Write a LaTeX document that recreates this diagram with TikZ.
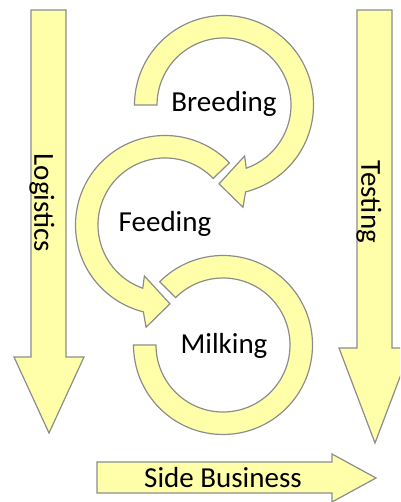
\documentclass[tikz,border=0pt]{standalone}
\usepackage{fontspec}
\setmainfont{Carlito}
\definecolor{bandfill}{RGB}{255,255,170}
\definecolor{bandline}{RGB}{140,140,140}
\begin{document}
\begin{tikzpicture}[x=1pt, y=1pt, every node/.style={font=\fontsize{29}{34}\selectfont},
  band/.style={draw=bandline,fill=bandfill,line width=1.2pt,line join=miter}]
  \useasboundingbox (0,0) rectangle (400,502);
  \clip (0,0) rectangle (400,502);
  % straight arrows
  \draw[band] (31,492) -- (66,492) -- (66,145) -- (84,145) -- (49,69) -- (14,145) -- (31,145) -- cycle;
  \draw[band] (357,492) -- (392,492) -- (392,154) -- (411,154) -- (375,59) -- (339,154) -- (357,154) -- cycle;
  \draw[band] (97,40) -- (332,40) -- (332,48) -- (376,24) -- (332,0) -- (332,9) -- (97,9) -- cycle;
  % ring arrows
  \begin{scope}[shift={(224,397)}]
    \draw[band] (180:89.5) arc[start angle=180, end angle=-76, radius=89.5] -- (-79.5:104) -- (-93.6:79)
      -- (-68:55) -- (-70.6:67) arc[start angle=-70.6, end angle=180, radius=67] -- cycle;
  \end{scope}
  \begin{scope}[shift={(165,277)}]
    \draw[band] (44:89.5) arc[start angle=44, end angle=256, radius=89.5] -- (259.5:104) -- (273.6:79)
      -- (248:55) -- (250.6:67) arc[start angle=250.6, end angle=44, radius=67] -- cycle;
  \end{scope}
  \begin{scope}[shift={(223,157)}]
    \draw[band] (135:89.5) arc[start angle=135, end angle=-180, radius=89.5] -- (-180:67)
      arc[start angle=-180, end angle=135, radius=67] -- cycle;
  \end{scope}
  % labels
  \node (breed) at (224,398) {Breeding};
  \node (feed) at (165,278) {Feeding};
  \node (milk) at (224,156) {Milking};
  \node[rotate=-90] (logi) at (42,299) {Logistics};
  \node[rotate=-90] (test) at (369,300) {Testing};
  \node (side) at (223,24) {Side Business};
\end{tikzpicture}
\end{document}
